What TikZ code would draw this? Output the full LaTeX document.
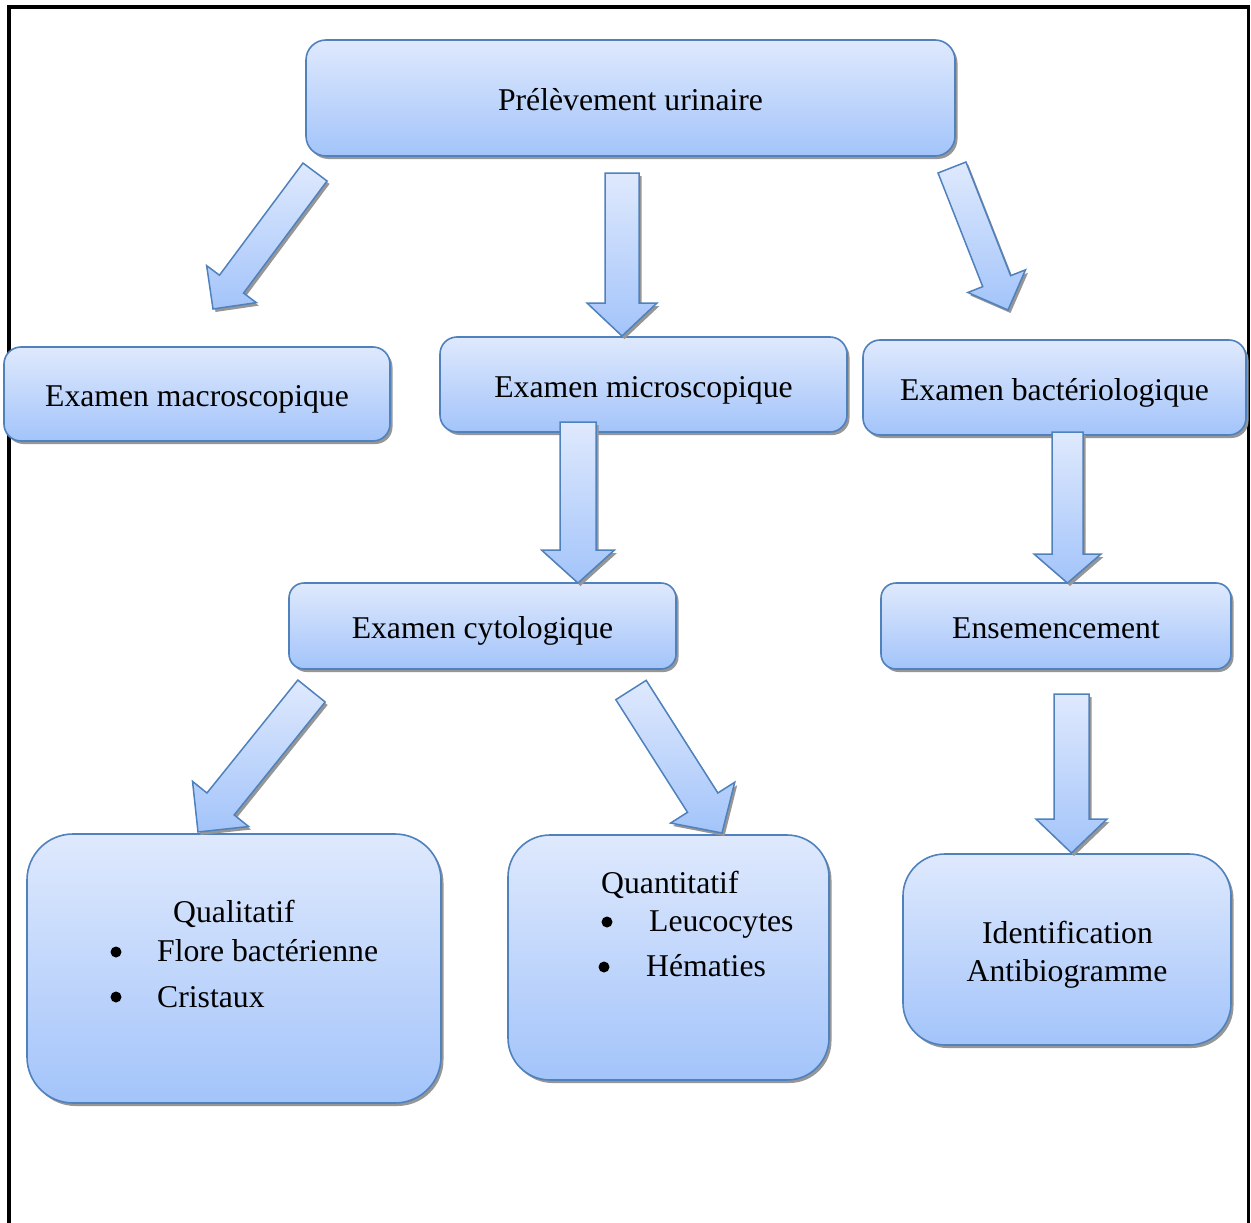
\documentclass[tikz,border=0pt]{standalone}
\usepackage{fontspec}
\setmainfont{Liberation Serif}
\usetikzlibrary{calc,shadows}
\definecolor{boxline}{RGB}{79,129,189}
\definecolor{boxtop}{RGB}{223,233,253}
\definecolor{boxbot}{RGB}{163,196,250}
\definecolor{shadowgray}{RGB}{150,150,150}
\newcommand\diagfont{\fontsize{31.7}{38}\selectfont}
\newcommand\blockarrow[6]{%
  \coordinate (#1S) at (#2);
  \coordinate (#1T) at (#3);
  \coordinate (#1B) at ($(#1T)!#6pt!(#1S)$);
  \path[blockarr] ($(#1S)!#4pt!90:(#1T)$) -- ($(#1B)!#4pt!90:(#1T)$) -- ($(#1B)!#5pt!90:(#1T)$) -- (#1T) -- ($(#1B)!#5pt!-90:(#1T)$) -- ($(#1B)!#4pt!-90:(#1T)$) -- ($(#1S)!#4pt!-90:(#1T)$) -- cycle;
}
\tikzset{
  myshadow/.style={drop shadow={shadow xshift=2.5pt, shadow yshift=-3pt, fill=shadowgray, opacity=1}},
  box/.style={draw=boxline, line width=1.6pt, top color=boxtop, bottom color=boxbot, myshadow,
    inner sep=0pt, font=\diagfont, text height=32.5pt, text depth=6.85pt, align=center},
  blockarr/.style={draw=boxline, line width=1.5pt, line join=miter, top color=boxtop, bottom color=boxbot, myshadow},
  txt/.style={inner sep=0pt, font=\diagfont},
  bul/.style={circle, fill=black, inner sep=0pt, minimum size=11pt},
}
\begin{document}
\begin{tikzpicture}[x=1pt,y=-1pt]
\useasboundingbox (0,0) rectangle (1251,1223);
% frame
\draw[line width=4pt] (9,1230) -- (9,7) -- (1249,7);
\draw[line width=2.7pt] (1248.7,5) -- (1248.7,1230);
% boxes
\node[box, minimum width=649pt, minimum height=116pt, rounded corners=20pt] (prel) at (630.5,98) {Prélèvement urinaire};
\node[box, minimum width=386pt, minimum height=94pt, rounded corners=17pt] (macro) at (197,394) {Examen macroscopique};
\node[box, minimum width=407pt, minimum height=95pt, rounded corners=17pt] (micro) at (643.5,384.5) {Examen microscopique};
\node[box, minimum width=383pt, minimum height=95pt, rounded corners=17pt] (bact) at (1054.5,387.5) {Examen bactériologique};
\node[box, minimum width=387pt, minimum height=86pt, rounded corners=15pt] (cyto) at (482.5,626) {Examen cytologique};
\node[box, minimum width=350pt, minimum height=86pt, rounded corners=15pt] (ens) at (1056,626) {Ensemencement};
\node[box, minimum width=414pt, minimum height=269pt, rounded corners=46pt] (qual) at (234,968.5) {};
\node[box, minimum width=321pt, minimum height=245pt, rounded corners=42pt] (quant) at (668.5,957.5) {};
\node[box, minimum width=328pt, minimum height=191pt, rounded corners=42pt] (ident) at (1067,949.5) {};
% texts in big boxes
\node[txt, anchor=base west] (qualt) at (173,922) {Qualitatif};
\node[bul] (qb1) at (116,952) {};
\node[txt, anchor=base west] (flore) at (157,961) {Flore bactérienne};
\node[bul] (qb2) at (116,997) {};
\node[txt, anchor=base west] (crist) at (157,1007) {Cristaux};
\node[txt, anchor=base west] (quantt) at (601,893) {Quantitatif};
\node[bul] (nb1) at (607,922) {};
\node[txt, anchor=base west] (leuco) at (649,931) {Leucocytes};
\node[bul] (nb2) at (604,967) {};
\node[txt, anchor=base west] (hemat) at (646,976) {Hématies};
\node[txt, anchor=base] (identt) at (1067.5,943) {Identification};
\node[txt, anchor=base] (antib) at (1067,981) {Antibiogramme};
% block arrows
\blockarrow{a}{315,172}{213,309}{15}{31}{31}
\blockarrow{b}{622,173}{622,336}{17}{35}{33}
\blockarrow{c}{952,167.5}{1008,310}{15}{31}{31}
\blockarrow{d}{578,422}{578,583}{18}{36.5}{33}
\blockarrow{e}{311.5,691}{198,832}{17.5}{36}{36}
\blockarrow{f}{631,690}{722,833}{18}{38}{36}
\blockarrow{g}{1067.5,432}{1067.5,583}{15.5}{33.5}{29}
\blockarrow{h}{1071.5,694}{1071.5,853}{17.5}{35.5}{34}
\end{tikzpicture}
\end{document}
